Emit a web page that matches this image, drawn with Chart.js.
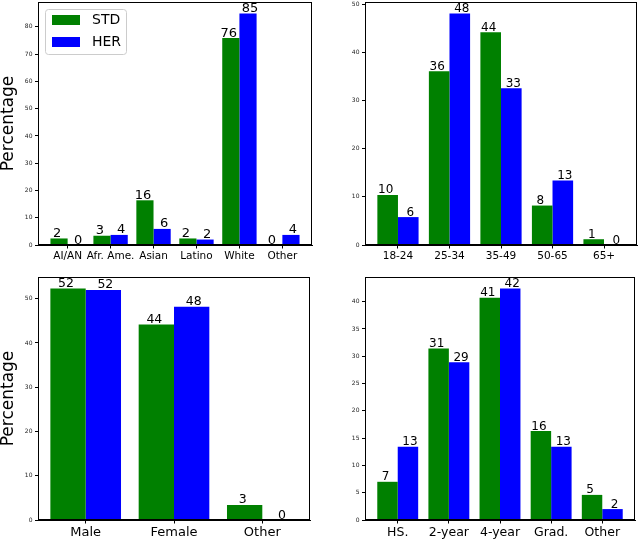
<!DOCTYPE html>
<html><head><meta charset="utf-8">
<script src="https://cdn.jsdelivr.net/npm/chart.js@4"></script>
<style>
html,body{margin:0;padding:0;background:#fff;}
#wrap{position:relative;width:640px;height:540px;overflow:hidden;}
canvas{position:absolute;}
</style></head><body>
<div id="wrap">
<canvas id="c1" width="320" height="270" style="left:0;top:0"></canvas>
<canvas id="c2" width="320" height="270" style="left:320px;top:0"></canvas>
<canvas id="c3" width="320" height="270" style="left:0;top:270px"></canvas>
<canvas id="c4" width="320" height="270" style="left:320px;top:270px"></canvas>
</div>
<script>
const seriesNames = ['STD', 'HER'];
const seriesColors = ['#008000', '#0000ff'];

const raceCats = ['AI/AN', 'Afr. Ame.', 'Asian', 'Latino', 'White', 'Other'];
const raceStd = [2.4, 3.4, 16.4, 2.4, 75.9, 0];
const raceHer = [0, 3.7, 5.9, 2.0, 84.9, 3.7];
const raceYTicks = [0, 10, 20, 30, 40, 50, 60, 70, 80];

const ageCats = ['18-24', '25-34', '35-49', '50-65', '65+'];
const ageStd = [10.4, 36.1, 44.2, 8.2, 1.2];
const ageHer = [5.8, 48.1, 32.6, 13.4, 0];
const ageYTicks = [0, 10, 20, 30, 40, 50];

const genderCats = ['Male', 'Female', 'Other'];
const genderStd = [52.3, 44.2, 3.4];
const genderHer = [52.0, 48.2, 0];
const genderYTicks = [0, 10, 20, 30, 40, 50];

const eduCats = ['HS.', '2-year', '4-year', 'Grad.', 'Other'];
const eduStd = [7.0, 31.4, 40.7, 16.3, 4.6];
const eduHer = [13.4, 28.9, 42.4, 13.4, 2.0];
const eduYTicks = [0, 5, 10, 15, 20, 25, 30, 35, 40];

const FONT = 'DejaVu Sans';

const framePlugin = {
  id: 'frame',
  afterDraw(chart) {
    const a = chart.chartArea, ctx = chart.ctx;
    ctx.save();
    ctx.strokeStyle = '#000';
    ctx.lineWidth = 1;
    ctx.strokeRect(Math.round(a.left) + 0.5, Math.round(a.top) + 0.5,
                   Math.round(a.right - a.left) - 1, Math.round(a.bottom - a.top) - 1);
    ctx.restore();
  }
};

const valueLabelPlugin = {
  id: 'valueLabels',
  afterDatasetsDraw(chart, args, o) {
    const ctx = chart.ctx, a = chart.chartArea;
    ctx.save();
    ctx.beginPath();
    ctx.rect(0, a.top - 1, chart.width, chart.height);
    ctx.clip();
    ctx.font = (o.size || 13) + 'px "' + FONT + '"';
    ctx.fillStyle = '#000';
    ctx.textAlign = 'center';
    ctx.textBaseline = 'alphabetic';
    chart.data.datasets.forEach((ds, di) => {
      const meta = chart.getDatasetMeta(di);
      meta.data.forEach((bar, i) => {
        const v = ds.data[i].y;
        ctx.fillText(String(Math.round(v)), bar.x + (di === 0 ? -2 : 2), bar.y - 1.5);
      });
    });
    ctx.restore();
  }
};

const boxLegendPlugin = {
  id: 'boxLegend',
  afterDraw(chart, args, o) {
    if (!o.show) return;
    const ctx = chart.ctx;
    ctx.save();
    const x = 45.5, y = 9.5, w = 81, h = 45, r = 3;
    ctx.beginPath();
    ctx.moveTo(x + r, y);
    ctx.lineTo(x + w - r, y); ctx.quadraticCurveTo(x + w, y, x + w, y + r);
    ctx.lineTo(x + w, y + h - r); ctx.quadraticCurveTo(x + w, y + h, x + w - r, y + h);
    ctx.lineTo(x + r, y + h); ctx.quadraticCurveTo(x, y + h, x, y + h - r);
    ctx.lineTo(x, y + r); ctx.quadraticCurveTo(x, y, x + r, y);
    ctx.closePath();
    ctx.fillStyle = 'rgba(255,255,255,0.8)';
    ctx.fill();
    ctx.strokeStyle = '#cccccc';
    ctx.lineWidth = 1;
    ctx.stroke();
    ctx.font = '14px "' + FONT + '"';
    ctx.textBaseline = 'middle';
    ctx.textAlign = 'left';
    chart.data.datasets.forEach((ds, i) => {
      const py = 15 + i * 22;
      ctx.fillStyle = ds.backgroundColor;
      ctx.fillRect(52, py, 28, 10);
      ctx.fillStyle = '#000';
      ctx.fillText(ds.label, 92, py + 5.5);
    });
    ctx.restore();
  }
};

function zeroPad(s) { s.paddingTop = 0; s.paddingBottom = 0; s.paddingLeft = 0; s.paddingRight = 0; }

function makeChart(id, cats, std, her, yTicks, opt) {
  const n = cats.length;
  const margin = 0.05 * (n - 1 + 0.8);
  const ymax = Math.max(...std, ...her) * 1.05;
  new Chart(document.getElementById(id), {
    type: 'bar',
    data: {
      datasets: [
        { label: seriesNames[0], data: std.map((v, i) => ({ x: i, y: v })), backgroundColor: seriesColors[0], borderWidth: 0 },
        { label: seriesNames[1], data: her.map((v, i) => ({ x: i, y: v })), backgroundColor: seriesColors[1], borderWidth: 0 }
      ]
    },
    options: {
      responsive: false,
      animation: false,
      devicePixelRatio: 1,
      layout: { padding: { top: opt.top, right: opt.right, left: 0, bottom: 0 } },
      datasets: { bar: { categoryPercentage: 0.8, barPercentage: 1.0 } },
      plugins: {
        legend: { display: false },
        tooltip: { enabled: false },
        valueLabels: { size: opt.labelSize },
        boxLegend: { show: !!opt.legend }
      },
      scales: {
        x: {
          type: 'linear',
          offset: false,
          min: -0.4 - margin,
          max: n - 1 + 0.4 + margin,
          grid: { display: true, drawOnChartArea: false, drawTicks: true, tickLength: 3.5, color: '#000', offset: false },
          border: { display: true, color: '#000' },
          afterBuildTicks: s => { s.ticks = cats.map((c, i) => ({ value: i })); },
          afterFit: s => { s.height = opt.xh; zeroPad(s); },
          ticks: {
            autoSkip: false, maxRotation: 0, minRotation: 0, padding: 1.5, color: '#000',
            font: { family: FONT, size: opt.xFont },
            callback: v => cats[v]
          }
        },
        y: {
          min: 0,
          max: ymax,
          grid: { display: true, drawOnChartArea: false, drawTicks: true, tickLength: 3, color: '#000' },
          border: { display: true, color: '#000' },
          afterBuildTicks: s => { s.ticks = yTicks.map(v => ({ value: v })); },
          afterFit: s => { s.width = opt.yw; zeroPad(s); },
          ticks: { padding: 2.5, color: '#222', font: { family: FONT, size: 6 }, callback: v => String(v) },
          title: {
            display: !!opt.yTitle, text: 'Percentage', color: '#000',
            font: { family: FONT, size: 17, lineHeight: 1 }, padding: 0
          }
        }
      }
    },
    plugins: [framePlugin, valueLabelPlugin, boxLegendPlugin]
  });
}

makeChart('c1', raceCats, raceStd, raceHer, raceYTicks,
  { top: 2, right: 8, xh: 25, yw: 38, xFont: 10.5, labelSize: 13, yTitle: true, legend: true });
makeChart('c2', ageCats, ageStd, ageHer, ageYTicks,
  { top: 2, right: 3, xh: 25, yw: 45, xFont: 10.5, labelSize: 12, yTitle: false });
makeChart('c3', genderCats, genderStd, genderHer, genderYTicks,
  { top: 7, right: 10, xh: 20, yw: 38, xFont: 13, labelSize: 12.5, yTitle: true });
makeChart('c4', eduCats, eduStd, eduHer, eduYTicks,
  { top: 7, right: 5, xh: 20, yw: 45, xFont: 12.5, labelSize: 12, yTitle: false });
</script>
</body></html>
